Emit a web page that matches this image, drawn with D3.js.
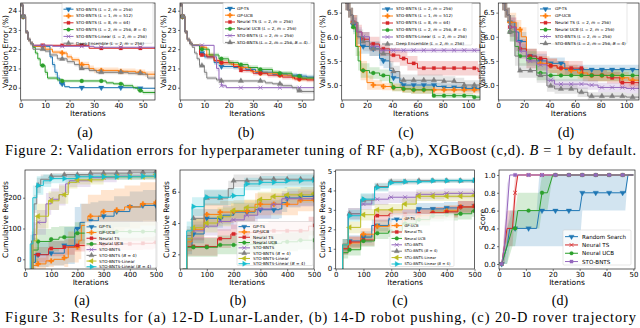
<!DOCTYPE html>
<html>
<head>
<meta charset="utf-8">
<script src="https://cdn.jsdelivr.net/npm/d3@7"></script>
<style>
  body { margin: 0; background: #fff; }
  svg { display: block; }
  text { font-family: 'DejaVu Sans', sans-serif; }
</style>
</head>
<body>
<svg width="640" height="328"></svg>
<script>
const svg = d3.select('svg')

const C = {
  blue: '#1f77b4', orange: '#ff7f0e', red: '#d62728', green: '#2ca02c',
  purple: '#9467bd', gray: '#7f7f7f', olive: '#bcbd22', cyan: '#17becf'
}
const SERIF = "'Liberation Serif', 'Times New Roman', serif"

// each point: [iteration, mean, half width of band]

// ---- Figure 2 (a) RF, STO-BNTS variants ----
const rfStart = [[0, 24.3, 0.1], [1, 23.7, 0.1], [2, 22.9, 0.1], [3, 22.5, 0.1], [4, 22.3, 0.1]]
const rfA_names = ['STO-BNTS (L = 2, m = 256)', 'STO-BNTS (L = 1, m = 512)', 'STO-BNTS (L = 8, m = 64)',
  'STO-BNTS (L = 2, m = 256, B = 4)', 'STO-BNTS-Linear (L = 2, m = 256)', 'Deep Ensemble (L = 2, m = 256)']
const rfA_l2 = rfStart.concat([[5, 22.15, 0.05], [12, 21.6, 0.1], [13, 21.2, 0.15], [14, 20.8, 0.15], [15, 20.5, 0.15],
  [16, 20.2, 0.1], [18, 20.05, 0.05], [20, 20.0, 0.03], [47, 19.97, 0.03], [55, 19.97, 0.03]])
const rfA_l1 = rfStart.concat([[5, 22.15, 0.05], [10, 22.0, 0.1], [13, 21.85, 0.1], [17, 21.8, 0.1], [19, 21.6, 0.12],
  [21, 21.45, 0.12], [24, 21.2, 0.15], [28, 21.0, 0.15], [30, 20.9, 0.15], [40, 20.85, 0.15], [47, 20.8, 0.15],
  [51, 20.7, 0.15], [55, 20.7, 0.15]])
const rfA_l8 = rfStart.concat([[5, 22.2, 0.05], [28, 22.05, 0.03], [55, 22.05, 0.03]])
const rfA_b4 = rfStart.concat([[5, 22.1, 0.05], [6, 21.8, 0.1], [7, 21.5, 0.1], [8, 21.15, 0.1], [10, 20.8, 0.15],
  [11, 20.5, 0.1], [15, 20.4, 0.1], [17, 20.35, 0.08], [35, 20.25, 0.08], [38, 20.2, 0.08], [42, 20.1, 0.1],
  [46, 20.0, 0.1], [48, 19.85, 0.1], [50, 19.75, 0.1], [55, 19.75, 0.1]])
const rfA_lin = rfStart.concat([[5, 22.2, 0.03], [13, 22.15, 0.03], [30, 22.1, 0.03], [55, 22.1, 0.03]])
const rfA_ens = rfStart.concat([[5, 22.0, 0.05], [10, 21.9, 0.1], [12, 21.7, 0.1], [15, 21.5, 0.1], [19, 21.35, 0.1],
  [22, 21.2, 0.1], [24, 21.0, 0.1], [28, 20.9, 0.1], [31, 20.8, 0.1], [44, 20.75, 0.1], [50, 20.7, 0.1],
  [52, 20.5, 0.1], [55, 20.5, 0.1]])

// ---- Figure 2 (b) RF, baselines ----
const rfB_names = ['GP-TS', 'GP-UCB', 'Neural TS (L = 2, m = 256)', 'Neural UCB (L = 2, m = 256)',
  'STO-BNTS (L = 2, m = 256)', 'STO-BNTS (L = 2, m = 256, B = 4)']
const rfB_gpts = rfStart.concat([[5, 22.2, 0.05], [8, 21.8, 0.1], [10, 21.6, 0.12], [14, 21.3, 0.12], [17, 21.1, 0.12],
  [22, 21.05, 0.12], [27, 20.95, 0.12], [31, 20.8, 0.12], [38, 20.7, 0.12], [44, 20.65, 0.12], [48, 20.6, 0.12],
  [52, 20.55, 0.12], [55, 20.55, 0.12]])
const rfB_gpucb = rfStart.concat([[5, 22.2, 0.05], [9, 22.1, 0.1], [11, 21.7, 0.12], [14, 21.4, 0.12], [17, 21.3, 0.12],
  [21, 21.2, 0.12], [24, 21.05, 0.12], [29, 20.85, 0.12], [33, 20.75, 0.12], [40, 20.65, 0.12], [46, 20.5, 0.12],
  [49, 20.45, 0.12], [55, 20.45, 0.12]])
const rfB_nts = rfStart.concat([[5, 22.2, 0.05], [8, 21.7, 0.1], [11, 21.6, 0.12], [14, 21.4, 0.12], [17, 21.3, 0.12],
  [22, 21.1, 0.12], [25, 20.9, 0.12], [30, 20.75, 0.12], [36, 20.65, 0.12], [42, 20.55, 0.12], [47, 20.45, 0.12],
  [52, 20.4, 0.12], [55, 20.4, 0.12]])
const rfB_nucb = rfStart.concat([[5, 22.2, 0.05], [8, 22.0, 0.1], [12, 21.7, 0.12], [16, 21.5, 0.12], [20, 21.3, 0.12],
  [24, 21.2, 0.12], [28, 21.05, 0.12], [32, 20.95, 0.12], [38, 20.8, 0.12], [41, 20.75, 0.12], [46, 20.6, 0.12],
  [50, 20.5, 0.12], [55, 20.5, 0.12]])
const rfB_sto = rfStart.concat([[5, 22.2, 0.03], [14, 21.6, 0.1], [15, 21.0, 0.15], [16, 20.4, 0.15], [17, 20.1, 0.1],
  [19, 20.0, 0.03], [55, 20.0, 0.03]])
const rfB_b4 = rfStart.concat([[5, 22.1, 0.05], [6, 21.8, 0.1], [7, 21.5, 0.1], [8, 21.15, 0.1], [10, 20.8, 0.15],
  [11, 20.5, 0.1], [15, 20.4, 0.1], [17, 20.35, 0.08], [35, 20.25, 0.08], [38, 20.2, 0.08], [42, 20.1, 0.1],
  [46, 20.0, 0.1], [48, 19.85, 0.1], [50, 19.8, 0.1], [55, 19.8, 0.1]])

// ---- Figure 2 (c) XGBoost, STO-BNTS variants ----
const xgStart = [[0, 7.0, 0.15], [1, 6.9, 0.15], [3, 6.7, 0.15], [5, 6.55, 0.15], [7, 6.45, 0.15]]
const xgC_names = rfA_names
const xgC_l2 = xgStart.concat([[9, 6.25, 0.15], [12, 6.0, 0.15], [15, 5.8, 0.15], [22, 5.75, 0.15], [30, 5.55, 0.15],
  [33, 5.5, 0.15], [38, 5.3, 0.15], [40, 5.15, 0.12], [46, 5.05, 0.1], [48, 5.0, 0.1], [75, 4.97, 0.08],
  [80, 4.95, 0.08], [95, 4.93, 0.08], [110, 4.93, 0.08]])
const xgC_l1 = xgStart.concat([[9, 6.3, 0.15], [12, 5.8, 0.2], [15, 5.3, 0.2], [20, 5.05, 0.15], [25, 5.0, 0.1],
  [32, 4.97, 0.08], [40, 4.95, 0.08], [48, 4.92, 0.08], [55, 4.9, 0.08], [110, 4.9, 0.08]])
const xgC_l8 = xgStart.concat([[9, 6.3, 0.15], [12, 6.1, 0.15], [16, 5.95, 0.15], [22, 5.85, 0.15], [30, 5.75, 0.15],
  [38, 5.62, 0.15], [46, 5.55, 0.15], [52, 5.45, 0.15], [60, 5.35, 0.15], [105, 5.35, 0.15], [108, 5.28, 0.15],
  [110, 5.28, 0.15]])
const xgC_b4 = xgStart.concat([[9, 6.2, 0.15], [11, 5.8, 0.2], [13, 5.5, 0.2], [15, 5.3, 0.15], [22, 5.25, 0.12],
  [30, 5.2, 0.12], [38, 5.05, 0.1], [40, 4.95, 0.08], [48, 4.92, 0.08], [55, 4.9, 0.08], [72, 4.78, 0.05],
  [100, 4.78, 0.05], [104, 4.75, 0.05], [110, 4.75, 0.05]])
const xgC_lin = xgStart.concat([[9, 6.3, 0.1], [12, 6.1, 0.1], [16, 6.0, 0.1], [22, 5.8, 0.08], [30, 5.72, 0.05],
  [110, 5.72, 0.05]])
const xgC_ens = xgStart.concat([[9, 6.3, 0.15], [13, 6.0, 0.15], [17, 5.9, 0.2], [22, 5.75, 0.15], [30, 5.65, 0.15],
  [38, 5.35, 0.15], [41, 5.28, 0.12], [46, 5.1, 0.12], [80, 5.08, 0.1], [90, 5.05, 0.1], [97, 5.0, 0.1],
  [110, 5.0, 0.1]])

// ---- Figure 2 (d) XGBoost, baselines ----
const xgD_names = rfB_names
const xgD_gpts = xgStart.concat([[9, 6.3, 0.15], [13, 6.1, 0.2], [16, 5.9, 0.2], [22, 5.6, 0.15], [30, 5.5, 0.15],
  [38, 5.45, 0.12], [52, 5.32, 0.1], [110, 5.32, 0.1]])
const xgD_gpucb = xgStart.concat([[9, 6.3, 0.2], [14, 6.15, 0.2], [18, 6.0, 0.2], [22, 5.55, 0.2], [30, 5.45, 0.15],
  [40, 5.4, 0.15], [46, 5.35, 0.15], [55, 5.3, 0.12], [62, 5.25, 0.12], [70, 5.2, 0.12], [95, 5.15, 0.12],
  [102, 5.1, 0.12], [110, 5.08, 0.12]])
const xgD_nts = xgStart.concat([[9, 6.2, 0.2], [14, 5.9, 0.2], [17, 5.75, 0.2], [22, 5.6, 0.15], [30, 5.55, 0.15],
  [38, 5.4, 0.15], [46, 5.35, 0.15], [66, 5.2, 0.12], [85, 5.15, 0.12], [95, 5.05, 0.12], [110, 5.03, 0.12]])
const xgD_nucb = xgStart.concat([[9, 6.1, 0.2], [13, 5.8, 0.2], [16, 5.6, 0.2], [22, 5.55, 0.15], [30, 5.25, 0.15],
  [38, 5.2, 0.12], [110, 5.18, 0.1]])
const xgD_sto = xgStart.concat([[9, 6.2, 0.2], [14, 5.9, 0.2], [17, 5.7, 0.15], [22, 5.5, 0.15], [30, 5.42, 0.12],
  [38, 5.1, 0.12], [44, 5.02, 0.1], [70, 5.0, 0.1], [78, 4.95, 0.1], [100, 4.93, 0.1], [110, 4.93, 0.1]])
const xgD_b4 = xgStart.concat([[9, 6.1, 0.2], [13, 5.6, 0.2], [16, 5.3, 0.15], [30, 5.2, 0.15], [38, 4.98, 0.12],
  [44, 4.92, 0.1], [62, 4.85, 0.1], [70, 4.77, 0.08], [100, 4.75, 0.08], [110, 4.73, 0.08]])

// ---- Figure 3 legends ----
const bbNames = ['GP-TS', 'GP-UCB', 'Neural TS', 'Neural UCB', 'STO-BNTS', 'STO-BNTS (B = 4)',
  'STO-BNTS-Linear', 'STO-BNTS-Linear (B = 4)']

// ---- Figure 3 (a) Lunar-Lander ----
const llGpts = [[10, -60, 20], [25, -10, 30], [40, 15, 40], [90, 20, 40], [150, 45, 60], [190, 100, 70],
  [210, 120, 60], [250, 125, 60], [280, 140, 50], [340, 155, 50], [400, 170, 50], [450, 175, 50], [500, 175, 50]]
const llGpucb = [[10, -60, 20], [30, -20, 20], [50, -15, 20], [80, -5, 20], [110, 0, 20], [150, 5, 30], [165, 40, 50],
  [205, 60, 60], [215, 110, 70], [240, 140, 70], [290, 155, 70], [340, 160, 70], [380, 170, 70], [440, 180, 70],
  [500, 185, 70]]
const llNts = [[10, -60, 20], [30, 15, 25], [90, 35, 25], [150, 40, 25], [190, 45, 20], [250, 48, 20], [350, 50, 20],
  [450, 52, 20], [490, 55, 20], [500, 55, 20]]
const llNucb = [[10, -60, 20], [30, 30, 40], [50, 58, 40], [100, 65, 40], [130, 72, 35], [190, 85, 35],
  [260, 90, 30], [500, 92, 30]]
const llSto = [[10, -60, 20], [30, 80, 40], [45, 120, 40], [80, 180, 35], [100, 195, 35], [130, 210, 35],
  [155, 245, 30], [170, 255, 20], [250, 265, 15], [350, 270, 10], [500, 275, 10]]
const llStoB4 = [[10, -60, 20], [25, 60, 30], [35, 180, 30], [45, 240, 25], [60, 260, 15], [100, 270, 10],
  [150, 275, 8], [250, 280, 8], [400, 283, 5], [500, 285, 5]]
const llLin = [[10, -60, 20], [30, 60, 40], [45, 140, 40], [90, 190, 30], [130, 210, 30], [165, 250, 20],
  [200, 258, 15], [300, 268, 10], [500, 275, 8]]
const llLinB4 = [[10, -60, 20], [20, 50, 30], [30, 200, 40], [45, 240, 30], [70, 255, 20], [100, 262, 15],
  [200, 268, 10], [450, 270, 10], [500, 272, 10]]

// ---- Figure 3 (b) robot pushing ----
const rpGpts = [[10, 0.8, 0.3], [25, 2.5, 0.5], [45, 3.3, 0.6], [90, 4.3, 0.6], [160, 4.5, 0.6], [200, 4.7, 0.6],
  [280, 4.85, 0.6], [370, 4.9, 0.6], [380, 5.3, 0.6], [400, 5.6, 0.6], [450, 5.7, 0.6], [500, 5.75, 0.6]]
const rpGpucb = [[10, 0.8, 0.3], [25, 2.8, 0.6], [45, 3.6, 0.7], [90, 4.55, 0.7], [150, 4.7, 0.7], [200, 4.75, 0.7],
  [280, 5.2, 0.7], [440, 5.45, 0.7], [500, 5.5, 0.7]]
const rpNts = [[10, 0.8, 0.3], [25, 2.5, 0.6], [140, 3.0, 0.6], [190, 3.3, 0.6], [260, 3.4, 0.6], [330, 3.5, 0.6],
  [480, 3.8, 0.6], [500, 3.85, 0.6]]
const rpNucb = [[10, 0.8, 0.3], [25, 2.45, 0.6], [140, 2.6, 0.6], [240, 2.65, 0.6], [300, 2.7, 0.6],
  [380, 2.8, 0.6], [440, 2.9, 0.6], [500, 2.9, 0.6]]
const rpSto = [[10, 0.8, 0.3], [25, 3.0, 0.6], [45, 3.5, 0.6], [90, 3.8, 0.6], [140, 4.1, 0.6], [190, 4.2, 0.6],
  [240, 4.5, 0.6], [290, 4.9, 0.6], [340, 5.2, 0.6], [380, 5.55, 0.5], [500, 5.65, 0.5]]
const rpStoB4 = [[10, 0.8, 0.3], [25, 3.2, 0.6], [45, 4.3, 0.6], [90, 5.6, 0.5], [180, 6.2, 0.5], [200, 6.7, 0.4],
  [300, 6.8, 0.4], [500, 6.85, 0.4]]
const rpLin = [[10, 0.8, 0.3], [25, 3.0, 0.6], [45, 3.7, 0.6], [90, 4.0, 0.6], [140, 4.4, 0.6], [190, 4.8, 0.5],
  [240, 5.0, 0.5], [290, 5.5, 0.5], [340, 5.7, 0.5], [390, 5.8, 0.5], [500, 5.9, 0.5]]
const rpLinB4 = [[10, 0.8, 0.3], [25, 3.5, 0.6], [45, 5.05, 0.6], [90, 5.65, 0.5], [190, 5.75, 0.5],
  [240, 6.5, 0.4], [300, 6.6, 0.4], [400, 6.7, 0.4], [500, 6.75, 0.4]]

// ---- Figure 3 (c) rover trajectory ----
const rvGpts = [[10, -0.3, 0.2], [25, 1.0, 0.3], [45, 1.4, 0.3], [90, 1.6, 0.3], [130, 2.2, 0.3], [190, 2.5, 0.3],
  [240, 2.7, 0.3], [290, 3.05, 0.3], [390, 3.1, 0.3], [440, 3.15, 0.3], [500, 3.2, 0.3]]
const rvGpucb = [[10, -0.3, 0.2], [25, 1.0, 0.3], [45, 1.3, 0.3], [90, 1.75, 0.3], [140, 2.15, 0.3],
  [190, 2.2, 0.3], [240, 2.55, 0.3], [290, 2.7, 0.3], [340, 2.85, 0.3], [390, 2.95, 0.3], [440, 3.15, 0.3],
  [500, 3.2, 0.3]]
const rvNts = [[10, -0.3, 0.2], [25, 1.0, 0.3], [45, 1.35, 0.3], [90, 1.45, 0.3], [140, 2.7, 0.3], [190, 2.75, 0.3],
  [290, 2.8, 0.3], [340, 2.85, 0.3], [400, 2.9, 0.3], [440, 3.15, 0.3], [500, 3.2, 0.3]]
const rvNucb = [[10, -0.3, 0.2], [25, 0.8, 0.3], [45, 0.95, 0.3], [90, 1.4, 0.3], [140, 1.8, 0.3], [190, 1.9, 0.3],
  [240, 2.3, 0.3], [290, 2.5, 0.3], [340, 2.7, 0.3], [390, 2.75, 0.3], [440, 2.8, 0.3], [490, 2.95, 0.3],
  [500, 2.95, 0.3]]
const rvSto = [[10, -0.3, 0.2], [25, 1.2, 0.3], [45, 2.8, 0.3], [90, 3.3, 0.3], [130, 3.55, 0.3], [190, 3.65, 0.3],
  [290, 3.8, 0.25], [390, 3.85, 0.25], [500, 3.9, 0.25]]
const rvStoB4 = [[10, -0.3, 0.2], [25, 1.2, 0.3], [45, 2.8, 0.3], [90, 3.5, 0.3], [140, 4.2, 0.2], [190, 4.45, 0.15],
  [300, 4.5, 0.1], [500, 4.5, 0.1]]
const rvLin = [[10, -0.3, 0.2], [25, 1.2, 0.3], [45, 2.1, 0.3], [90, 2.75, 0.3], [140, 3.0, 0.3], [240, 3.3, 0.3],
  [290, 3.7, 0.25], [500, 3.75, 0.25]]
const rvLinB4 = [[10, -0.3, 0.2], [25, 1.2, 0.3], [45, 2.7, 0.3], [90, 3.55, 0.3], [140, 4.15, 0.2],
  [190, 4.4, 0.15], [240, 4.45, 0.1], [340, 4.5, 0.1], [500, 4.52, 0.1]]

// ---- Figure 3 (d) score ----
const scNames = ['Random Search', 'Neural TS', 'Neural UCB', 'STO-BNTS']
const scRandom = [[1, 0, 0], [3, 0.2, 0.2], [4, 0.4, 0.2], [14, 0.4, 0.2], [15, 0.6, 0.4], [30, 0.6, 0.4],
  [31, 0.8, 0.2], [47, 0.8, 0.2], [48, 1.0, 0], [50, 1.0, 0]]
const scNts = [[1, 0, 0], [2, 0.2, 0.2], [3, 0.4, 0.2], [5, 0.4, 0.2], [6, 0.8, 0.2], [7, 1.0, 0], [50, 1.0, 0]]
const scNucb = [[1, 0, 0], [3, 0.2, 0.2], [5, 0.4, 0.2], [6, 0.4, 0.2], [7, 0.6, 0.2], [15, 0.6, 0.2],
  [16, 0.8, 0.2], [18, 0.8, 0.2], [20, 1.0, 0], [50, 1.0, 0]]
const scSto = [[1, 0, 0], [2, 0.2, 0.2], [3, 0.6, 0.3], [4, 1.0, 0], [50, 1.0, 0]]

// ---------------------------------------------------------------
const symTimes = d3.symbolTimes || d3.symbolCross
const SYM = {
  down: { type: d3.symbolTriangle, rot: 180, size: 13 },
  plus: { type: d3.symbolCross, rot: 0, size: 13 },
  square: { type: d3.symbolSquare, rot: 0, size: 11 },
  circle: { type: d3.symbolCircle, rot: 0, size: 12 },
  x: { type: symTimes, rot: d3.symbolTimes ? 0 : 45, size: 12, stroke: true },
  up: { type: d3.symbolTriangle, rot: 0, size: 13 },
  left: { type: d3.symbolTriangle, rot: -90, size: 13 },
  right: { type: d3.symbolTriangle, rot: 90, size: 13 }
}

const col6a = [C.blue, C.orange, C.red, C.green, C.purple, C.gray]
const sym6a = ['down', 'plus', 'square', 'circle', 'x', 'up']
const col8 = [C.blue, C.orange, C.red, C.green, C.purple, C.gray, C.olive, C.cyan]
const sym8 = ['down', 'plus', 'square', 'circle', 'x', 'up', 'left', 'right']

const panels = [
  { l: 20.7, r: 155, t: 3, b: 100, xd: [0, 55], yd: [19.36, 24.4],
    xt: [0, 10, 20, 30, 40, 50], yt: [20, 21, 22, 23, 24], yf: d3.format('d'),
    ylab: 'Validation Error (%)', ylx: 5,
    names: rfA_names, series: [rfA_l2, rfA_l1, rfA_l8, rfA_b4, rfA_lin, rfA_ens],
    cols: col6a, syms: sym6a, marks: d3.range(1, 56, 8), linear: false,
    leg: { x: 62, y: 3.3, w: 91, h: 40, row: 6.8, fs: 4.1, s0: 63.5, s1: 73.5, tx: 76 } },
  { l: 180, r: 314, t: 3, b: 100, xd: [0, 55], yd: [19.36, 24.4],
    xt: [0, 10, 20, 30, 40, 50], yt: [20, 21, 22, 23, 24], yf: d3.format('d'),
    ylab: 'Validation Error (%)', ylx: 163,
    names: rfB_names, series: [rfB_gpts, rfB_gpucb, rfB_nts, rfB_nucb, rfB_sto, rfB_b4],
    cols: col6a, syms: sym6a, marks: d3.range(1, 56, 8), linear: false,
    leg: { x: 223, y: 2.5, w: 88, h: 41, row: 6.8, fs: 4.1, s0: 225, s1: 235, tx: 237 } },
  { l: 341.7, r: 480, t: 3, b: 100, xd: [0, 109.5], yd: [4.69, 6.7],
    xt: [0, 20, 40, 60, 80, 100], yt: [5.0, 5.5, 6.0, 6.5], yf: d3.format('.1f'),
    ylab: 'Validation Error (%)', ylx: 322,
    names: xgC_names, series: [xgC_l2, xgC_l1, xgC_l8, xgC_b4, xgC_lin, xgC_ens],
    cols: col6a, syms: sym6a, marks: d3.range(1, 110, 8), linear: false,
    leg: { x: 380, y: 3, w: 92, h: 42, row: 7, fs: 4.1, s0: 382, s1: 393, tx: 396 } },
  { l: 498.3, r: 639, t: 3, b: 100, xd: [0, 110], yd: [4.69, 6.7],
    xt: [0, 20, 40, 60, 80, 100], yt: [5.0, 5.5, 6.0, 6.5], yf: d3.format('.1f'),
    ylab: 'Validation Error (%)', ylx: 482,
    names: xgD_names, series: [xgD_gpts, xgD_gpucb, xgD_nts, xgD_nucb, xgD_sto, xgD_b4],
    cols: col6a, syms: sym6a, marks: d3.range(1, 110, 8), linear: false,
    leg: { x: 538, y: 3, w: 89, h: 41, row: 6.9, fs: 4.1, s0: 540, s1: 551, tx: 555 } },
  { l: 25, r: 156, t: 170, b: 269, xd: [0, 500], yd: [-31.5, 290],
    xt: [0, 100, 200, 300, 400, 500], yt: [0, 100, 200], yf: d3.format('d'),
    ylab: 'Cumulative Rewards', ylx: 5,
    names: bbNames, series: [llGpts, llGpucb, llNts, llNucb, llSto, llStoB4, llLin, llLinB4],
    cols: col8, syms: sym8, marks: d3.range(50, 501, 50), linear: false,
    leg: { x: 85, y: 221.5, w: 72, h: 46, row: 5.7, fs: 4.2, s0: 86.5, s1: 96.5, tx: 99 } },
  { l: 180, r: 314, t: 170, b: 269, xd: [0, 500], yd: [1.06, 7.39],
    xt: [0, 100, 200, 300, 400, 500], yt: [2, 4, 6], yf: d3.format('d'),
    ylab: 'Cumulative Rewards', ylx: 166,
    names: bbNames, series: [rpGpts, rpGpucb, rpNts, rpNucb, rpSto, rpStoB4, rpLin, rpLinB4],
    cols: col8, syms: sym8, marks: d3.range(50, 501, 50), linear: false,
    leg: { x: 237, y: 221.5, w: 76, h: 44, row: 5.3, fs: 4.2, s0: 238.5, s1: 250, tx: 253 } },
  { l: 335.7, r: 474.5, t: 170, b: 269, xd: [0, 500], yd: [-0.04, 5.05],
    xt: [0, 100, 200, 300, 400, 500], yt: [0, 1, 2, 3, 4, 5], yf: d3.format('d'),
    ylab: 'Cumulative Rewards', ylx: 322,
    names: bbNames, series: [rvGpts, rvGpucb, rvNts, rvNucb, rvSto, rvStoB4, rvLin, rvLinB4],
    cols: col8, syms: sym8, marks: d3.range(50, 501, 50), linear: false,
    leg: { x: 390, y: 213.5, w: 64, h: 53, row: 6.4, fs: 3.7, s0: 391.5, s1: 402, tx: 404.5 } },
  { l: 499, r: 635, t: 170, b: 269, xd: [0, 50.6], yd: [-0.056, 1.056],
    xt: [0, 10, 20, 30, 40, 50], yt: [0, 0.2, 0.4, 0.6, 0.8, 1.0], yf: d3.format('.1f'),
    ylab: 'Score', ylx: 482,
    names: scNames, series: [scRandom, scNts, scNucb, scSto],
    cols: [C.blue, C.red, C.green, C.purple], syms: ['down', 'x', 'circle', 'square'],
    marks: d3.range(1, 50, 5), linear: true,
    leg: { x: 563, y: 230, w: 68, h: 35, row: 8.3, fs: 5.6, s0: 565, s1: 578, tx: 582 } }
]

const subLabels = [
  ['(a)', 85, 137], ['(b)', 246, 137], ['(c)', 406, 137], ['(d)', 566, 137],
  ['(a)', 82, 305], ['(b)', 238, 305], ['(c)', 400, 305], ['(d)', 560, 305]
]

// text with italic L, m, B
function richText(sel, str) {
  str.split(/\b([LmB])(?= =)/).forEach(part => {
    if (!part) return
    const ts = sel.append('tspan').text(part)
    if (/^[LmB]$/.test(part)) ts.attr('font-style', 'italic')
  })
}

function drawMarker(g, name, color, x, y, scale) {
  const s = SYM[name]
  const path = d3.symbol().type(s.type).size(s.size * (scale || 1))()
  const m = g.append('path')
    .attr('d', path)
    .attr('transform', `translate(${x},${y}) rotate(${s.rot})`)
  if (s.stroke) m.attr('fill', 'none').attr('stroke', color).attr('stroke-width', 0.8)
  else m.attr('fill', color).attr('stroke', color).attr('stroke-width', 0.3)
}

function valueAt(s, xv, linear) {
  const i = d3.bisector(d => d[0]).right(s, xv) - 1
  if (i < 0) return null
  if (!linear || i >= s.length - 1) return s[i][1]
  const a = s[i], b = s[i + 1]
  return a[1] + (b[1] - a[1]) * (xv - a[0]) / (b[0] - a[0])
}

panels.forEach((p, pi) => {
  const x = d3.scaleLinear().domain(p.xd).range([p.l, p.r])
  const y = d3.scaleLinear().domain(p.yd).range([p.b, p.t])
  const g = svg.append('g')
  const clipId = 'clip' + pi

  svg.append('clipPath').attr('id', clipId)
    .append('rect')
    .attr('x', p.l).attr('y', p.t)
    .attr('width', p.r - p.l).attr('height', p.b - p.t)

  const curve = p.linear ? d3.curveLinear : d3.curveStepAfter
  const area = d3.area().curve(curve)
    .x(d => x(d[0]))
    .y0(d => y(d[1] - d[2]))
    .y1(d => y(d[1] + d[2]))
  const line = d3.line().curve(curve)
    .x(d => x(d[0]))
    .y(d => y(d[1]))

  const plot = g.append('g').attr('clip-path', `url(#${clipId})`)

  plot.selectAll('path.band')
    .data(p.series)
    .enter()
    .append('path')
    .attr('class', 'band')
    .attr('d', area)
    .attr('fill', (d, i) => p.cols[i])
    .attr('fill-opacity', 0.2)
    .attr('stroke', 'none')

  p.series.forEach((s, i) => {
    plot.append('path')
      .attr('d', line(s))
      .attr('fill', 'none')
      .attr('stroke', p.cols[i])
      .attr('stroke-width', 1)
    p.marks.forEach(mx => {
      const v = valueAt(s, mx, p.linear)
      if (v === null || v > p.yd[1] || v < p.yd[0]) return
      drawMarker(plot, p.syms[i], p.cols[i], x(mx), y(v))
    })
  })

  // frame
  g.append('rect')
    .attr('x', p.l).attr('y', p.t)
    .attr('width', p.r - p.l).attr('height', p.b - p.t)
    .attr('fill', 'none')
    .attr('stroke', '#222')
    .attr('stroke-width', 0.7)

  const xAxis = g.append('g')
    .attr('transform', `translate(0,${p.b})`)
    .call(d3.axisBottom(x).tickValues(p.xt).tickSize(2).tickPadding(1))
  const yAxis = g.append('g')
    .attr('transform', `translate(${p.l},0)`)
    .call(d3.axisLeft(y).tickValues(p.yt).tickFormat(p.yf).tickSize(2).tickPadding(1.5))
  ;[xAxis, yAxis].forEach(a => {
    a.select('.domain').remove()
    a.selectAll('line').attr('stroke', '#222').attr('stroke-width', 0.6)
    a.selectAll('text')
      .attr('fill', '#000')
      .style('font-family', "'DejaVu Sans', sans-serif")
      .style('font-size', '7px')
  })

  g.append('text')
    .attr('x', (p.l + p.r) / 2)
    .attr('y', p.b + 16)
    .attr('text-anchor', 'middle')
    .style('font-size', '7.5px')
    .text('Iterations')

  g.append('text')
    .attr('transform', `translate(${p.ylx},${(p.t + p.b) / 2}) rotate(-90)`)
    .attr('text-anchor', 'middle')
    .attr('dy', '0.35em')
    .style('font-size', '7.5px')
    .text(p.ylab)

  // legend
  const L = p.leg
  const lg = g.append('g')
  lg.append('rect')
    .attr('x', L.x).attr('y', L.y)
    .attr('width', L.w).attr('height', L.h)
    .attr('rx', 1.2)
    .attr('fill', '#fff').attr('fill-opacity', 0.8)
    .attr('stroke', '#ccc').attr('stroke-width', 0.5)
  p.names.forEach((n, i) => {
    const cy = L.y + 3 + L.row * (i + 0.5) - 0.5
    lg.append('line')
      .attr('x1', L.s0).attr('x2', L.s1)
      .attr('y1', cy).attr('y2', cy)
      .attr('stroke', p.cols[i]).attr('stroke-width', 1)
    drawMarker(lg, p.syms[i], p.cols[i], (L.s0 + L.s1) / 2, cy, 0.9)
    const t = lg.append('text')
      .attr('x', L.tx).attr('y', cy)
      .attr('dy', '0.35em')
      .style('font-size', L.fs + 'px')
    richText(t, n)
  })
})

subLabels.forEach(([s, sx, sy]) => {
  svg.append('text')
    .attr('x', sx).attr('y', sy)
    .attr('text-anchor', 'middle')
    .style('font-family', SERIF)
    .style('font-size', '14px')
    .text(s)
})

const cap2 = svg.append('text')
  .attr('x', 5).attr('y', 154.5)
  .attr('textLength', 631)
  .attr('lengthAdjust', 'spacing')
  .style('font-family', SERIF)
  .style('font-size', '14.4px')
richText(cap2, 'Figure 2: Validation errors for hyperparameter tuning of RF (a,b), XGBoost (c,d). B = 1 by default.')

svg.append('text')
  .attr('x', 5).attr('y', 321.5)
  .attr('textLength', 631)
  .attr('lengthAdjust', 'spacing')
  .style('font-family', SERIF)
  .style('font-size', '14.4px')
  .text('Figure 3: Results for (a) 12-D Lunar-Lander, (b) 14-D robot pushing, (c) 20-D rover trajectory')
</script>
</body>
</html>
